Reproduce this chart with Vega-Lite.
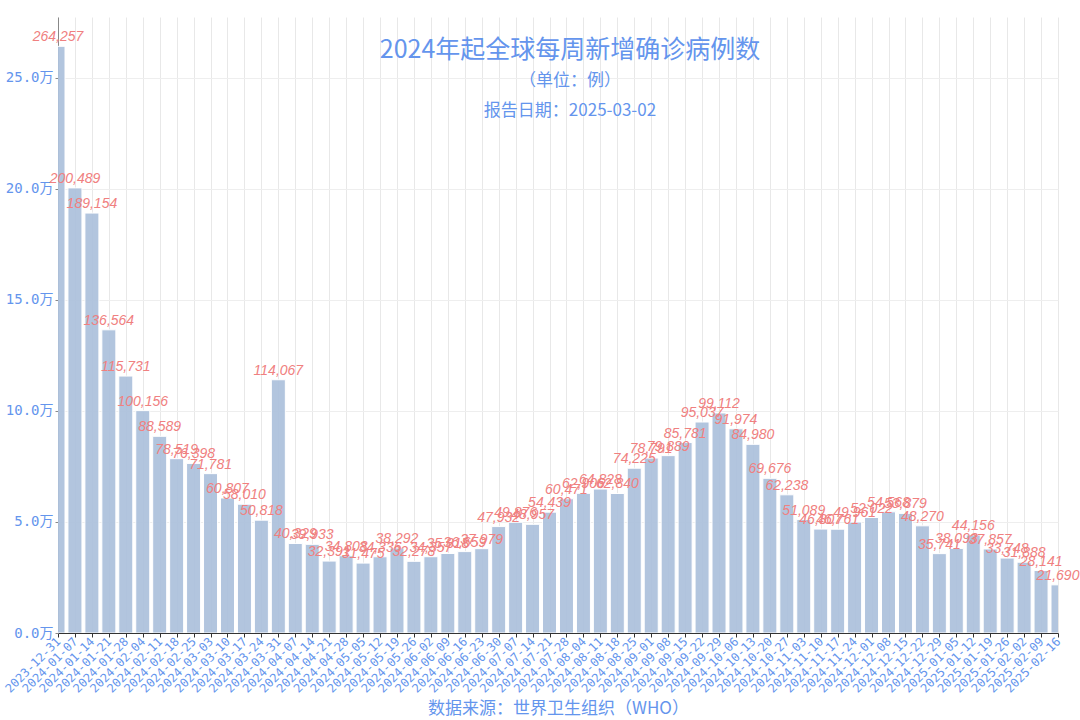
{
  "$schema": "https://vega.github.io/schema/vega-lite/v6.json",
  "width": 1000,
  "height": 616,
  "autosize": {"type": "none"},
  "padding": {"left": 58, "top": 17, "right": 22, "bottom": 87},
  "background": "white",
  "config": {"view": {"stroke": null}},
  "title": {
    "text": "2024年起全球每周新增确诊病例数",
    "subtitle": ["（单位：例）", "报告日期：2025-03-02"],
    "orient": "top",
    "anchor": "middle",
    "frame": "group",
    "offset": -102,
    "dx": 12,
    "font": "Noto Sans CJK SC",
    "fontSize": 25,
    "fontWeight": "normal",
    "color": "#6495ED",
    "subtitleFont": "Noto Sans CJK SC",
    "subtitleFontSize": 17,
    "subtitleColor": "#6495ED",
    "subtitlePadding": 10,
    "subtitleLineHeight": 30
  },
  "data": {"values": [
    {"date": "2023-12-31", "cases": 264257},
    {"date": "2024-01-07", "cases": 200489},
    {"date": "2024-01-14", "cases": 189154},
    {"date": "2024-01-21", "cases": 136564},
    {"date": "2024-01-28", "cases": 115731},
    {"date": "2024-02-04", "cases": 100156},
    {"date": "2024-02-11", "cases": 88589},
    {"date": "2024-02-18", "cases": 78519},
    {"date": "2024-02-25", "cases": 76398},
    {"date": "2024-03-03", "cases": 71781},
    {"date": "2024-03-10", "cases": 60807},
    {"date": "2024-03-17", "cases": 58010},
    {"date": "2024-03-24", "cases": 50818},
    {"date": "2024-03-31", "cases": 114067},
    {"date": "2024-04-07", "cases": 40329},
    {"date": "2024-04-14", "cases": 39933},
    {"date": "2024-04-21", "cases": 32391},
    {"date": "2024-04-28", "cases": 34808},
    {"date": "2024-05-05", "cases": 31475},
    {"date": "2024-05-12", "cases": 34336},
    {"date": "2024-05-19", "cases": 38292},
    {"date": "2024-05-26", "cases": 32278},
    {"date": "2024-06-02", "cases": 34357},
    {"date": "2024-06-09", "cases": 35818},
    {"date": "2024-06-16", "cases": 36659},
    {"date": "2024-06-23", "cases": 37979},
    {"date": "2024-06-30", "cases": 47932},
    {"date": "2024-07-07", "cases": 49876},
    {"date": "2024-07-14", "cases": 48957},
    {"date": "2024-07-21", "cases": 54439},
    {"date": "2024-07-28", "cases": 60471},
    {"date": "2024-08-04", "cases": 62906},
    {"date": "2024-08-11", "cases": 64828},
    {"date": "2024-08-18", "cases": 62840},
    {"date": "2024-08-25", "cases": 74225},
    {"date": "2024-09-01", "cases": 78791},
    {"date": "2024-09-08", "cases": 79889},
    {"date": "2024-09-15", "cases": 85781},
    {"date": "2024-09-22", "cases": 95037},
    {"date": "2024-09-29", "cases": 99112},
    {"date": "2024-10-06", "cases": 91974},
    {"date": "2024-10-13", "cases": 84980},
    {"date": "2024-10-20", "cases": 69676},
    {"date": "2024-10-27", "cases": 62238},
    {"date": "2024-11-03", "cases": 51089},
    {"date": "2024-11-10", "cases": 46807},
    {"date": "2024-11-17", "cases": 46761},
    {"date": "2024-11-24", "cases": 49961},
    {"date": "2024-12-01", "cases": 52022},
    {"date": "2024-12-08", "cases": 54568},
    {"date": "2024-12-15", "cases": 53879},
    {"date": "2024-12-22", "cases": 48270},
    {"date": "2024-12-29", "cases": 35741},
    {"date": "2025-01-05", "cases": 38093},
    {"date": "2025-01-12", "cases": 44156},
    {"date": "2025-01-19", "cases": 37857},
    {"date": "2025-01-26", "cases": 33748},
    {"date": "2025-02-02", "cases": 31888},
    {"date": "2025-02-09", "cases": 28141},
    {"date": "2025-02-16", "cases": 21690}
  ]},
  "encoding": {
    "x": {
      "field": "date",
      "type": "temporal",
      "scale": {
        "type": "utc",
        "nice": false,
        "padding": 0,
        "domain": [
          {"year": 2023, "month": 12, "date": 31, "utc": true},
          {"year": 2025, "month": 2, "date": 16, "utc": true}
        ]
      },
      "axis": {
        "title": "数据来源：世界卫生组织（WHO）",
        "titleFont": "Noto Sans CJK SC",
        "titleFontSize": 17,
        "titleFontWeight": "normal",
        "titleColor": "#6495ED",
        "titleY": 75,
        "titleBaseline": "middle",
        "tickCount": {"interval": "week", "step": 1},
        "format": "%Y-%m-%d",
        "labelAngle": -45,
        "labelAlign": "right",
        "labelBaseline": "middle",
        "labelFont": "DejaVu Sans Mono",
        "labelFontSize": 12,
        "labelColor": "#6495ED",
        "labelOverlap": false,
        "labelFlush": false,
        "labelBound": false,
        "labelPadding": 2,
        "tickSize": 4,
        "tickColor": "#333333",
        "domainColor": "#333333",
        "grid": true,
        "gridColor": "#e8e8e8",
        "gridWidth": 1
      }
    },
    "y": {
      "field": "cases",
      "type": "quantitative",
      "scale": {"domain": [0, 277470], "nice": false},
      "axis": {
        "title": null,
        "values": [0, 50000, 100000, 150000, 200000, 250000],
        "labelExpr": "format(datum.value / 10000, '.1f') + '万'",
        "labelFont": "DejaVu Sans Mono, Noto Sans CJK SC",
        "labelFontSize": 14,
        "labelColor": "#6495ED",
        "labelPadding": 2,
        "tickSize": 3,
        "tickColor": "#888888",
        "domainColor": "#888888",
        "grid": true,
        "gridColor": "#eeeeee",
        "gridWidth": 1
      }
    }
  },
  "layer": [
    {
      "mark": {"type": "bar", "width": 14, "color": "#AEC2DD", "opacity": 0.95, "stroke": "white", "strokeWidth": 1, "clip": true}
    },
    {
      "mark": {"type": "text", "baseline": "bottom", "dy": -2, "font": "Liberation Sans", "fontStyle": "italic", "fontSize": 14, "color": "#F08080"},
      "encoding": {"text": {"field": "cases", "type": "quantitative", "format": ","}}
    }
  ]
}
